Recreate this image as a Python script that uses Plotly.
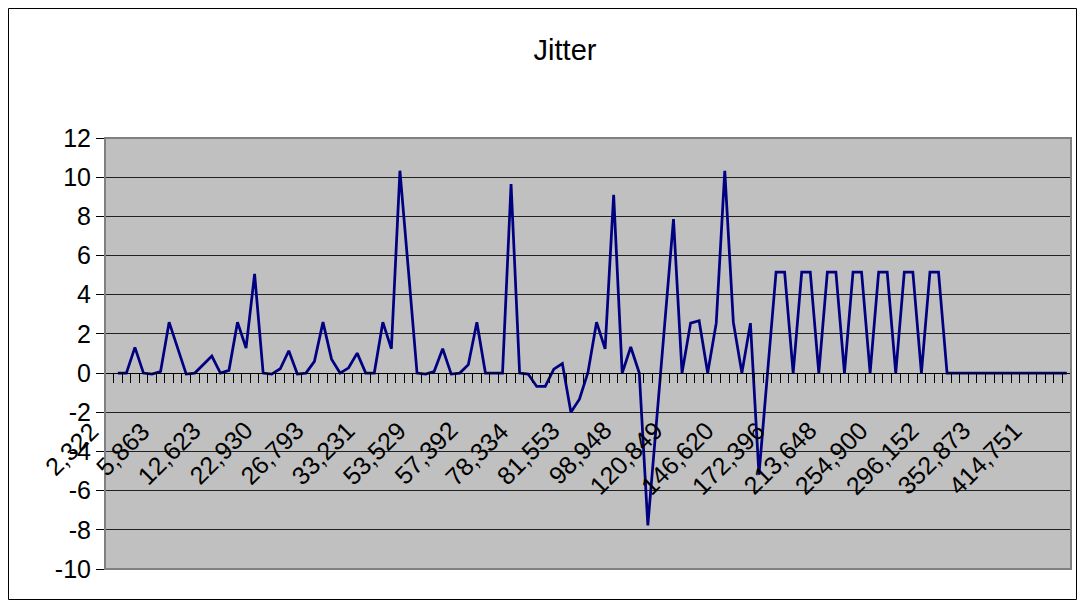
import plotly.graph_objects as go

# values (one per category, first category empty)
jitter = [None,
          0, 0, 1.31, 0, -0.05, 0.08, 2.6, 1.3, -0.05, 0,
          0.43, 0.87, 0, 0.14, 2.6, 1.28, 5.06, 0, -0.05, 0.22,
          1.14, -0.05, 0, 0.6, 2.6, 0.71, 0, 0.27, 1.02, 0,
          0, 2.6, 1.24, 10.33, 5.2, 0, -0.05, 0.08, 1.24, -0.05,
          0, 0.43, 2.6, 0, 0, 0, 9.65, 0, -0.05, -0.68,
          -0.68, 0.2, 0.49, -2.0, -1.33, 0.05, 2.6, 1.24, 9.1, 0,
          1.33, 0, -7.78, -2.55, 2.5, 7.86, 0, 2.55, 2.67, 0,
          2.55, 10.33, 2.6, 0, 2.55, -5.19, 0, 5.16, 5.16, 0,
          5.16, 5.16, 0, 5.16, 5.16, 0, 5.16, 5.16, 0, 5.16,
          5.16, 0, 5.16, 5.16, 0, 5.16, 5.16, 0, 0, 0,
          0, 0, 0, 0, 0, 0, 0, 0, 0, 0,
          0, 0]

tick_labels = ["2,322", "5,863", "12,623", "22,930", "26,793", "33,231", "53,529",
               "57,392", "78,334", "81,553", "98,948", "120,849", "146,620",
               "172,396", "213,648", "254,900", "296,152", "352,873", "414,751"]
label_first = 1
label_step = 6

y_ticks = list(range(-10, 13, 2))
Y_MIN, Y_MAX = -10, 12

# layout in pixels (page body adds an 8px offset)
W, H = 1077, 601
ML, MR, MT, MB = 97, 14, 130, 40
LBL_DX, LBL_DY = -13, -42   # rotated category labels: top-right corner offset from category/axis
FONT = "Liberation Sans, Arial, sans-serif"
FS = 25

n = len(jitter)
x = list(range(n))
bounds = [i - 0.5 for i in range(n + 1)]
label_idx = [label_first + label_step * k for k in range(len(tick_labels))]

pw, ph = W - ML - MR, H - MT - MB
def px_x(px):
    return (px - ML) / pw
def px_y(py):
    return (H - MB - py) / ph

fig = go.Figure()
fig.add_trace(go.Scatter(x=x, y=jitter, mode='lines', name='Jitter',
                         line=dict(color='#000080', width=2.75), connectgaps=False))

fig.update_layout(
    width=W, height=H,
    margin=dict(l=ML, r=MR, t=MT, b=MB),
    paper_bgcolor='white', plot_bgcolor='#C0C0C0',
    showlegend=False,
    font=dict(family=FONT, color='black', size=FS),
    title=dict(text='Jitter', x=557 / W, xanchor='center', y=1 - 42 / H, yanchor='middle',
               font=dict(family=FONT, size=29, color='black')),
    # category axis drawn where y = 0
    xaxis=dict(range=[-0.5, n - 0.5], anchor='free', position=(0 - Y_MIN) / (Y_MAX - Y_MIN),
               showgrid=False, zeroline=False, showline=True, linecolor='black', linewidth=1,
               tickmode='array', tickvals=bounds, ticktext=[''] * len(bounds),
               ticks='outside', ticklen=9, tickcolor='black', tickwidth=1),
    yaxis=dict(range=[Y_MIN, Y_MAX], tickmode='array', tickvals=y_ticks,
               ticktext=[str(v) for v in y_ticks],
               showgrid=True, gridcolor='#202020', gridwidth=1, zeroline=False,
               showline=True, linecolor='black', linewidth=1,
               ticks='outside', ticklen=8, tickcolor='black',
               tickfont=dict(family=FONT, size=FS, color='black')),
)

# rotated category labels hanging below the zero line
for i, lbl in zip(label_idx, tick_labels):
    fig.add_annotation(x=i, y=0, xref='x', yref='y', text=lbl, showarrow=False,
                       textangle=-45, xanchor='right', yanchor='top', borderpad=0,
                       xshift=LBL_DX, yshift=LBL_DY,
                       font=dict(family=FONT, size=FS, color='black'))

# plot area border (grey) and outer chart border
fig.add_shape(type='rect', xref='paper', yref='paper', x0=0, x1=1, y0=0, y1=1,
              line=dict(color='#808080', width=2), layer='above')
fig.add_shape(type='rect', xref='paper', yref='paper',
              x0=px_x(0.5), x1=px_x(1068.5), y0=px_y(591.5), y1=px_y(0.5),
              line=dict(color='black', width=1))

fig.write_html("out.html")
